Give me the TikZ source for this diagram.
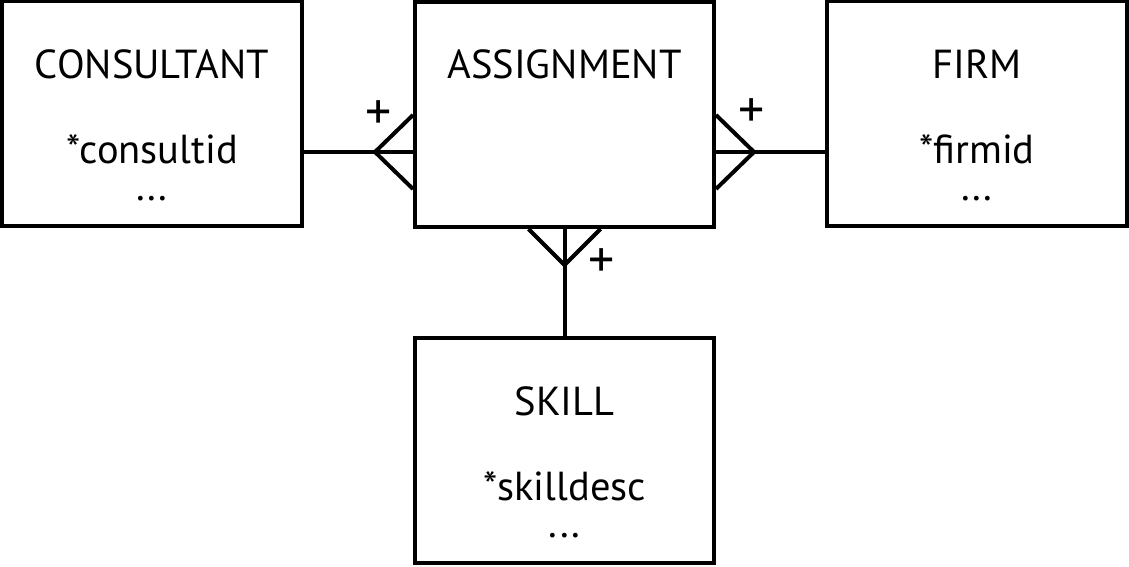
\documentclass[tikz,border=0pt]{standalone}
\usepackage{fontspec}
\setmainfont{PT Sans}
\begin{document}
\begin{tikzpicture}[x=1pt, y=1pt, font=\fontsize{40.5}{48}\selectfont,
  entity/.style={draw, line width=4pt, minimum width=300pt, minimum height=225pt, inner sep=0pt},
  link/.style={line width=4pt},
  card/.style={inner sep=0pt, font=\fontsize{52}{60}\selectfont}]
\useasboundingbox (0,0) rectangle (1129,567);

% entita
  \node[entity] (consultant) at (152,453) {};
  \node[entity, minimum width=299pt] (assignment) at (564.5,452.5) {};
  \node[entity] (firm) at (977,453) {};
  \node[entity, minimum width=299pt] (skill) at (564.5,116.5) {};

% testi
  \node[] (consultantname) at (152,503) {CONSULTANT};
  \node[] (consultantkey) at (152,418) {*consultid};
  \node[] (consultantmore) at (152,368) {...};
  \node[] (assignmentname) at (564.5,503) {ASSIGNMENT};
  \node[] (firmname) at (977,503) {FIRM};
  \node[] (firmkey) at (977,418) {*firmid};
  \node[] (firmmore) at (977,368) {...};
  \node[] (skillname) at (564.5,166) {SKILL};
  \node[] (skillkey) at (564.5,81) {*skilldesc};
  \node[] (skillmore) at (564.5,31) {...};

% punti di attacco
  \coordinate (consultantport) at ([yshift=-38pt]consultant.east);
  \coordinate (assignmentin) at ([yshift=-37.5pt]assignment.west);
  \coordinate (assignmentout) at ([yshift=-37.5pt]assignment.east);
  \coordinate (firmport) at ([yshift=-38pt]firm.west);

%relazioni
  \draw[link] (consultantport) -- (assignmentin);
  \draw[link] ([yshift=37pt]assignmentin) -- ([xshift=-38pt]assignmentin) -- ([yshift=-37pt]assignmentin);
  \node[card] (plusleft) at (379,452) {+};

  \draw[link] (firmport) -- (assignmentout);
  \draw[link] ([yshift=37pt]assignmentout) -- ([xshift=38pt]assignmentout) -- ([yshift=-37pt]assignmentout);
  \node[card] (plusright) at (752,454) {+};

  \draw[link] (skill.north) -- (assignment.south);
  \draw[link] ([xshift=-36pt]assignment.south) -- ([yshift=-36pt]assignment.south) -- ([xshift=36pt]assignment.south);
  \node[card] (plusbottom) at (602,304) {+};

\end{tikzpicture}
\end{document}
